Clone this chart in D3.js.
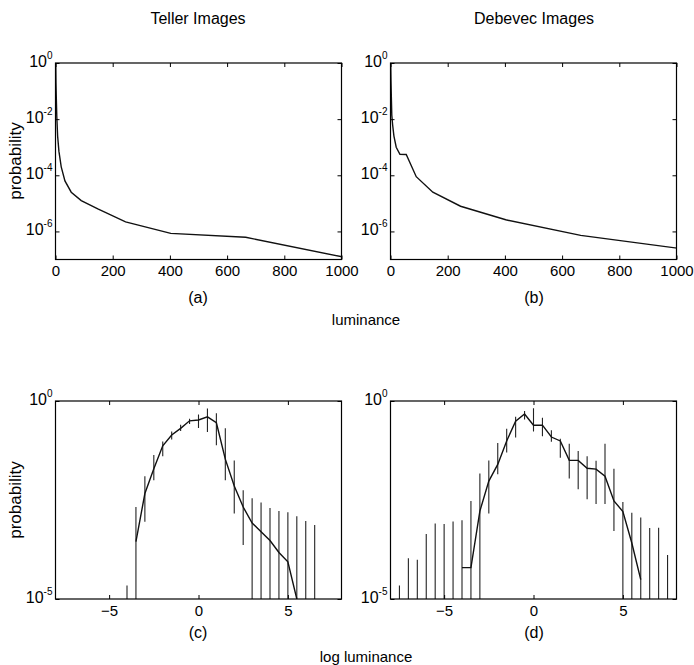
<!DOCTYPE html>
<html>
<head>
<meta charset="utf-8">
<script src="https://cdn.jsdelivr.net/npm/d3@7/dist/d3.min.js"></script>
<style>
  body { margin: 0; background: #fff; }
  svg { display: block; }
  text { font-family: "Liberation Sans", Arial, sans-serif; fill: #000; }
  .axis path { display: none; }
  .axis line { stroke: #000; }
</style>
</head>
<body>
<div id="chart"></div>
<script>
// luminance bin centres (top row)
var lumBins = [0.37, 1, 1.6, 2.7, 4.5, 7.4, 12, 20, 33, 55, 90, 148, 245, 403, 665, 1097];
var tellerLum = [2.0, 0.8, 0.2, 0.063, 0.0126, 2.5e-3, 7.1e-4, 2.0e-4, 6.3e-5, 2.5e-5, 1.26e-5, 6.3e-6, 2.2e-6, 8.5e-7, 6.2e-7, 7.9e-8];
var debevecLum = [2.0, 0.63, 0.25, 0.079, 0.014, 6.3e-3, 2.5e-3, 1.0e-3, 5.6e-4, 5.5e-4, 8.9e-5, 2.5e-5, 7.9e-6, 2.6e-6, 7.2e-7, 1.9e-7];

// log luminance bins (bottom row)
var logBins = [-7.5, -7, -6.5, -6, -5.5, -5, -4.5, -4, -3.5, -3, -2.5, -2, -1.5, -1, -0.5, 0,
               0.5, 1, 1.5, 2, 2.5, 3, 3.5, 4, 4.5, 5, 5.5, 6, 6.5, 7, 7.5];

// teller: mean, lower and upper bar (null = nothing drawn, 1e-6 = runs off the bottom)
var tellerLog = [null, null, null, null, null, null, null, null, 2.8e-4, 4.6e-3, 0.0195, 0.074, 0.138, 0.204, 0.316, 0.331,
                 0.398, 0.282, 0.034, 7.1e-3, 2.1e-3, 8.3e-4, 5.0e-4, 3.0e-4, 1.5e-4, 8.7e-5, 1.0e-5, null, null, null, null];
var tellerLo = [null, null, null, null, null, null, null, 1e-6, 1e-6, 8.9e-4, 0.01, 0.040, 0.107, 0.174, 0.263, 0.209,
                0.166, 0.076, 0.01, 1.45e-3, 2.3e-4, 1e-6, 1e-6, 1e-6, 1e-6, 1e-6, 1e-6, 1e-6, 1e-6, null, null];
var tellerHi = [null, null, null, null, null, null, null, 2.2e-5, 2.1e-3, 0.0126, 0.043, 0.095, 0.17, 0.25, 0.355, 0.457,
                0.646, 0.49, 0.204, 0.0316, 5.6e-3, 3.5e-3, 2.75e-3, 2.0e-3, 1.66e-3, 1.55e-3, 1.23e-3, 9.3e-4, 7.4e-4, null, null];

var debevecLog = [null, null, null, null, null, null, null, 6.2e-5, 6.2e-5, 1.66e-3, 9.5e-3, 0.025, 0.098, 0.31, 0.47, 0.245,
                  0.245, 0.123, 0.098, 0.0316, 0.0316, 0.020, 0.019, 0.0126, 3.0e-3, 1.62e-3, 2.6e-4, 3.1e-5, null, null, null];
var debevecLo = [1e-6, 1e-6, 1e-6, 1e-6, 1e-6, 1e-6, 1e-6, 1e-6, 1e-6, 1e-6, 1.45e-3, 0.0141, 0.05, 0.12, 0.34, 0.17,
                 0.129, 0.093, 0.037, 0.011, 5.9e-3, 3.3e-3, 2.5e-3, 2.5e-3, 5.2e-4, 1e-6, 1e-6, 1e-6, 1e-6, 1e-6, 1e-6];
var debevecHi = [2.2e-5, 1.07e-4, 9.8e-5, 4.4e-4, 8.1e-4, 7.8e-4, 9.1e-4, 9.8e-4, 3.0e-3, 0.0148, 0.0316, 0.087, 0.2, 0.4, 0.56, 0.66,
                 0.38, 0.182, 0.112, 0.083, 0.055, 0.04, 0.031, 0.083, 0.0195, 2.8e-3, 1.5e-3, 1.15e-3, 6.2e-4, 6.3e-4, 1.3e-4];

var lumTicks = [0, 200, 400, 600, 800, 1000];
var logTicks = [-5, 0, 5];
var probTicksTop = [1, 1e-2, 1e-4, 1e-6];
var probTicksBottom = [1, 1e-5];

var svg = d3.select("#chart").append("svg")
  .attr("width", 694)
  .attr("height", 665);

var clipId = 0;

function drawPanel(p) {
  var x = d3.scaleLinear().domain(p.xDomain).range([p.l, p.r]);
  var y = d3.scaleLog().domain(p.yDomain).range([p.b, p.t]);
  var g = svg.append("g");

  clipId++;
  g.append("clipPath").attr("id", "clip" + clipId)
    .append("rect")
    .attr("x", p.l).attr("y", p.t)
    .attr("width", p.r - p.l).attr("height", p.b - p.t);

  var plot = g.append("g").attr("clip-path", "url(#clip" + clipId + ")");

  // error bars
  if (p.lo) {
    var bars = p.xs.map(function(v, i) { return {x: v, lo: p.lo[i], hi: p.hi[i]}; })
      .filter(function(d) { return d.lo != null && d.hi != null; });
    plot.selectAll("line.err")
      .data(bars)
      .enter().append("line")
      .attr("class", "err")
      .attr("x1", function(d) { return x(d.x); })
      .attr("x2", function(d) { return x(d.x); })
      .attr("y1", function(d) { return y(d.lo); })
      .attr("y2", function(d) { return y(d.hi); })
      .style("stroke", "#222")
      .style("stroke-width", 1.1);
  }

  var pts = p.xs.map(function(v, i) { return {x: v, y: p.ys[i]}; })
    .filter(function(d) { return d.y != null; });
  var line = d3.line()
    .x(function(d) { return x(d.x); })
    .y(function(d) { return y(d.y); });
  plot.append("path")
    .datum(pts)
    .attr("d", line)
    .style("fill", "none")
    .style("stroke", "#111")
    .style("stroke-width", 1.4);

  // ticks on all four sides, pointing in
  g.append("g").attr("class", "axis")
    .attr("transform", "translate(0," + p.b + ")")
    .call(d3.axisBottom(x).tickValues(p.xTicks).tickSizeInner(-4).tickSizeOuter(0).tickPadding(6)
      .tickFormat(d3.format("d")))
    .selectAll("text").style("font-size", "15px");

  g.append("g").attr("class", "axis")
    .attr("transform", "translate(0," + p.t + ")")
    .call(d3.axisTop(x).tickValues(p.xTicks).tickSizeInner(-4).tickSizeOuter(0).tickFormat(""));

  g.append("g").attr("class", "axis")
    .attr("transform", "translate(" + p.r + ",0)")
    .call(d3.axisRight(y).tickValues(p.yTicks).tickSizeInner(-4).tickSizeOuter(0).tickFormat(""));

  var yAxis = g.append("g").attr("class", "axis")
    .attr("transform", "translate(" + p.l + ",0)")
    .call(d3.axisLeft(y).tickValues(p.yTicks).tickSizeInner(-4).tickSizeOuter(0).tickPadding(3).tickFormat(""));

  // 10 with a raised exponent
  yAxis.selectAll(".tick text").each(function(d) {
    var t = d3.select(this).text(null);
    var e = Math.round(Math.log10(d));
    t.append("tspan").style("font-size", "16px").text("10");
    t.append("tspan").style("font-size", "10px").attr("dy", "-0.8em").text(e);
  });

  // frame
  g.append("rect")
    .attr("x", p.l).attr("y", p.t)
    .attr("width", p.r - p.l).attr("height", p.b - p.t)
    .style("fill", "none")
    .style("stroke", "#000")
    .style("stroke-width", 1.2);
}

drawPanel({l: 55.5, r: 341.5, t: 63, b: 259.5, xDomain: [0, 1000], yDomain: [1e-7, 1],
  xs: lumBins, ys: tellerLum, xTicks: lumTicks, yTicks: probTicksTop});
drawPanel({l: 390.5, r: 676.5, t: 63, b: 259.5, xDomain: [0, 1000], yDomain: [1e-7, 1],
  xs: lumBins, ys: debevecLum, xTicks: lumTicks, yTicks: probTicksTop});
drawPanel({l: 55.5, r: 341.5, t: 401, b: 599, xDomain: [-8, 8], yDomain: [1e-5, 1],
  xs: logBins, ys: tellerLog, lo: tellerLo, hi: tellerHi, xTicks: logTicks, yTicks: probTicksBottom});
drawPanel({l: 390.5, r: 676.5, t: 401, b: 599, xDomain: [-8, 8], yDomain: [1e-5, 1],
  xs: logBins, ys: debevecLog, lo: debevecLo, hi: debevecHi, xTicks: logTicks, yTicks: probTicksBottom});

// labels
function label(txt, x, y, size, rot) {
  var t = svg.append("text")
    .attr("text-anchor", "middle")
    .style("font-size", size + "px")
    .text(txt);
  if (rot) t.attr("transform", "translate(" + x + "," + y + ") rotate(-90)");
  else t.attr("x", x).attr("y", y);
}

label("Teller Images", 198, 24, 16);
label("Debevec Images", 534, 24, 16);
label("(a)", 198, 303, 16);
label("(b)", 534, 303, 16);
label("luminance", 366, 325, 15);
label("(c)", 198, 638, 16);
label("(d)", 534, 638, 16);
label("log luminance", 366, 662, 15);
label("probability", 21, 161, 17, true);
label("probability", 21, 500, 17, true);
</script>
</body>
</html>
